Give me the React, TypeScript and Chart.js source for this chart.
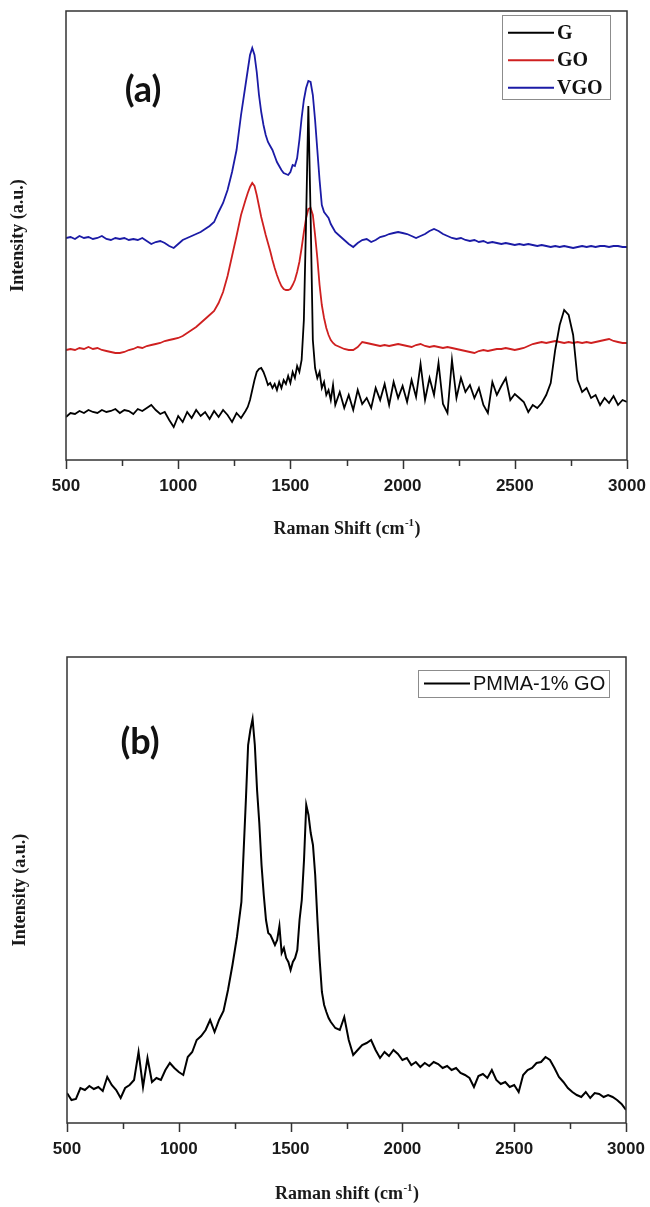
import React, { useEffect, useRef } from "react";
import { Chart, registerables } from "chart.js";

Chart.register(...registerables);

// Raman shift grid (cm-1)
const ramanShift = [
  500, 520, 540, 560, 580, 600, 620, 640, 660, 680, 700, 720, 740, 760, 780, 800, 820, 840, 860, 880, 900, 920, 940, 960, 980, 1000, 1020, 1040, 1060, 1080, 1100, 1120, 1140, 1160, 1180, 1200, 1220, 1240, 1260, 1280, 1300,
  1310, 1320, 1330, 1340, 1350, 1360, 1370, 1380, 1390, 1400, 1410, 1420, 1430, 1440, 1450, 1460, 1470, 1480, 1490, 1500, 1510, 1520, 1530, 1540, 1550, 1560, 1570, 1580, 1590, 1600, 1610, 1620, 1630, 1640, 1650, 1660, 1670, 1680, 1690, 1700,
  1720, 1740, 1760, 1780, 1800, 1820, 1840, 1860, 1880, 1900, 1920, 1940, 1960, 1980, 2000, 2020, 2040, 2060, 2080, 2100, 2120, 2140, 2160, 2180, 2200, 2220, 2240, 2260, 2280, 2300, 2320, 2340, 2360, 2380, 2400, 2420, 2440, 2460, 2480, 2500, 2520, 2540, 2560, 2580, 2600, 2620, 2640, 2660, 2680, 2700, 2720, 2740, 2760, 2780, 2800, 2820, 2840, 2860, 2880, 2900, 2920, 2940, 2960, 2980, 3000,
];

// Panel (a) intensities (a.u., offset traces)
const gIntensity = [
  43, 47, 46, 49, 47, 50, 48, 47, 50, 48, 49, 51, 47, 50, 49, 46, 51, 49, 52, 55, 50, 46, 48, 40, 33, 44, 38, 48, 42, 50, 44, 48, 41, 49, 43, 50, 45, 38, 47, 42, 49,
  53, 60, 70, 80, 88, 91, 92, 88, 82, 75, 77, 72, 76, 70, 78, 72, 80, 76, 84, 77, 88, 82, 94, 88, 100, 140, 240, 354, 245, 120, 92, 82, 88, 72, 78, 65, 70, 60, 75, 55,
  68, 52, 65, 50, 70, 56, 62, 52, 72, 60, 76, 55, 78, 62, 74, 58, 80, 63, 96, 60, 82, 65, 97, 56, 47, 100, 62, 82, 68, 75, 62, 72, 55, 47, 78, 65, 74, 82, 60, 66, 62, 58, 48, 55, 52, 57, 65, 77, 110, 135, 150, 145, 125, 80, 68, 72, 62, 65, 55, 62, 57, 64, 55, 60, 58,
];
const goIntensity = [
  110, 111, 110, 112, 111, 113, 111, 112, 110, 109, 108, 107, 107, 108, 110, 111, 113, 112, 114, 115, 116, 117, 119, 120, 121, 122, 124, 127, 130, 133, 137, 141, 145, 149, 157, 168, 184, 204, 224, 245, 260,
  267, 273, 277, 274, 265, 254, 243, 234, 225, 217, 209, 200, 192, 185, 179, 174, 171, 170, 170, 171, 175, 180, 188, 198, 212, 228, 242, 251, 252, 245, 225, 202, 175, 155, 142, 132, 125, 120, 117, 115,
  113, 111, 110, 110, 113, 118, 117, 116, 115, 114, 115, 114, 115, 116, 115, 114, 113, 115, 116, 114, 113, 114, 113, 112, 113, 112, 111, 110, 109, 108, 107, 109, 110, 109, 110, 111, 111, 112, 111, 110, 111, 112, 114, 116, 117, 118, 117, 118, 119, 118, 117, 118, 117, 118, 117, 118, 117, 118, 119, 120, 121, 119, 118, 117, 117,
];
const vgoIntensity = [
  222, 223, 221, 224, 222, 223, 221, 222, 224, 221, 220, 222, 221, 222, 220, 221, 220, 222, 219, 216, 218, 219, 217, 214, 212, 216, 220, 222, 224, 226, 228, 231, 234, 238, 248, 257, 270, 288, 310, 345, 375,
  390, 405, 412, 405, 388, 365, 348, 335, 325, 318, 314, 310, 304, 298, 294, 290, 287, 286, 285, 288, 295, 294, 302, 320, 342, 360, 372, 379, 378, 365, 340, 310, 280, 255, 248, 245, 242, 236, 232, 228,
  224, 220, 216, 213, 217, 220, 221, 218, 220, 223, 224, 226, 227, 228, 227, 226, 224, 222, 224, 226, 229, 231, 229, 226, 224, 222, 221, 222, 220, 219, 220, 218, 219, 217, 218, 217, 216, 217, 216, 215, 216, 215, 216, 215, 214, 215, 214, 213, 214, 213, 214, 213, 212, 213, 214, 213, 214, 213, 214, 214, 213, 214, 214, 213, 213,
];

// Panel (b) intensities
const pmmaIntensity = [
  30, 23, 24, 35, 33, 37, 34, 36, 32, 46, 38, 33, 25, 35, 38, 43, 71, 36, 65, 41, 45, 43, 53, 60, 55, 51, 48, 66, 71, 83, 87, 93, 103, 91, 103, 112, 133, 158, 186, 221, 323,
  378, 393, 404, 378, 333, 300, 258, 228, 203, 190, 188, 183, 178, 183, 197, 170, 175, 165, 161, 153, 161, 165, 173, 203, 223, 263, 318, 308, 290, 278, 248, 203, 163, 131, 118, 111, 105, 101, 98, 95,
  93, 106, 83, 68, 73, 78, 80, 83, 73, 65, 71, 67, 73, 69, 63, 65, 58, 61, 56, 60, 57, 61, 59, 55, 57, 53, 55, 50, 48, 45, 36, 47, 49, 45, 53, 43, 39, 41, 36, 38, 31, 48, 53, 55, 60, 61, 66, 63, 55, 46, 41, 35, 31, 28, 26, 31, 25, 30, 29, 26, 28, 26, 23, 19, 13,
];

const majorTicks = [500, 1000, 1500, 2000, 2500, 3000];
const minorTicks = [750, 1250, 1750, 2250, 2750];

const seriesA = [
  { label: "G", data: gIntensity, color: "#000000", width: 1.8 },
  { label: "GO", data: goIntensity, color: "#cf2020", width: 1.8 },
  { label: "VGO", data: vgoIntensity, color: "#1b1ba6", width: 1.8 },
];
const seriesB = [{ label: "PMMA-1% GO", data: pmmaIntensity, color: "#000000", width: 2 }];

type Decor = {
  panel: string;
  panelX: number;
  panelY: number;
  xTitle: string;
  xTitleOffset: number;
  yTitleX: number;
  legend: { x: number; y: number; w: number; h: number; rowH: number; font: string; lineLen: number; pad: number };
};

function makeDecor(d: Decor) {
  return {
    id: "decor",
    afterDraw(chart: any) {
      const ctx = chart.ctx as CanvasRenderingContext2D;
      const { left, right, top, bottom } = chart.chartArea;
      const xs = chart.scales.x;
      ctx.save();
      // frame
      ctx.strokeStyle = "#333333";
      ctx.lineWidth = 1.5;
      ctx.strokeRect(left, top, right - left, bottom - top);
      // ticks
      ctx.beginPath();
      majorTicks.forEach((v) => {
        const x = Math.round(xs.getPixelForValue(v)) + 0.5;
        ctx.moveTo(x, bottom);
        ctx.lineTo(x, bottom + 9);
      });
      minorTicks.forEach((v) => {
        const x = Math.round(xs.getPixelForValue(v)) + 0.5;
        ctx.moveTo(x, bottom);
        ctx.lineTo(x, bottom + 6);
      });
      ctx.stroke();
      // x title with superscript
      const mainFont = "bold 18px 'Liberation Serif'";
      const supFont = "bold 11px 'Liberation Serif'";
      const pre = d.xTitle + " (cm";
      const sup = "-1";
      const post = ")";
      ctx.fillStyle = "#1a1a1a";
      ctx.textBaseline = "alphabetic";
      ctx.textAlign = "left";
      ctx.font = mainFont;
      const w1 = ctx.measureText(pre).width;
      const w3 = ctx.measureText(post).width;
      ctx.font = supFont;
      const w2 = ctx.measureText(sup).width;
      const cx = (left + right) / 2;
      const x0 = cx - (w1 + w2 + w3) / 2;
      const by = bottom + d.xTitleOffset + 6;
      ctx.font = mainFont;
      ctx.fillText(pre, x0, by);
      ctx.font = supFont;
      ctx.fillText(sup, x0 + w1 + 0.5, by - 8);
      ctx.font = mainFont;
      ctx.fillText(post, x0 + w1 + w2 + 1, by);
      // y title
      ctx.save();
      ctx.translate(d.yTitleX, (top + bottom) / 2);
      ctx.rotate(-Math.PI / 2);
      ctx.textAlign = "center";
      ctx.textBaseline = "middle";
      ctx.font = mainFont;
      ctx.fillText("Intensity (a.u.)", 0, 0);
      ctx.restore();
      // panel label
      ctx.font = "bold 36px Lato";
      ctx.textAlign = "center";
      ctx.textBaseline = "middle";
      ctx.fillStyle = "#111111";
      ctx.fillText(d.panel, d.panelX, d.panelY);
      // legend
      const L = d.legend;
      ctx.fillStyle = "#ffffff";
      ctx.fillRect(L.x, L.y, L.w, L.h);
      ctx.strokeStyle = "#8c8c8c";
      ctx.lineWidth = 1;
      ctx.strokeRect(L.x + 0.5, L.y + 0.5, L.w, L.h);
      chart.data.datasets.forEach((ds: any, i: number) => {
        const y = L.y + L.pad + L.rowH * i + L.rowH / 2;
        ctx.strokeStyle = ds.borderColor;
        ctx.lineWidth = 2;
        ctx.beginPath();
        ctx.moveTo(L.x + 6, y);
        ctx.lineTo(L.x + 6 + L.lineLen, y);
        ctx.stroke();
        ctx.fillStyle = "#111111";
        ctx.font = L.font;
        ctx.textAlign = "left";
        ctx.textBaseline = "middle";
        ctx.fillText(ds.label, L.x + 6 + L.lineLen + 3, y + 1);
      });
      ctx.restore();
    },
  };
}

function makeConfig(
  series: { label: string; data: number[]; color: string; width: number }[],
  yMax: number,
  padding: any,
  yAxisWidth: number,
  xAxisHeight: number,
  decor: Decor
): any {
  return {
    type: "line",
    data: {
      datasets: series.map((s) => ({
        label: s.label,
        data: ramanShift.map((x, i) => ({ x, y: s.data[i] })),
        borderColor: s.color,
        backgroundColor: s.color,
        borderWidth: s.width,
        pointRadius: 0,
        tension: 0,
        fill: false,
      })),
    },
    options: {
      animation: false,
      responsive: false,
      maintainAspectRatio: false,
      layout: { padding },
      plugins: { legend: { display: false }, tooltip: { enabled: false } },
      scales: {
        x: {
          type: "linear",
          min: 500,
          max: 3000,
          afterFit: (s: any) => {
            s.height = xAxisHeight;
            s.paddingLeft = 0;
            s.paddingRight = 0;
          },
          grid: { display: false, drawTicks: false },
          border: { display: false },
          ticks: {
            stepSize: 500,
            padding: 16,
            maxRotation: 0,
            autoSkip: false,
            color: "#1a1a1a",
            font: { family: "'Liberation Sans'", size: 17, weight: "bold" },
            callback: (v: any) => String(v),
          },
        },
        y: {
          type: "linear",
          min: 0,
          max: yMax,
          afterFit: (s: any) => {
            s.width = yAxisWidth;
            s.paddingTop = 0;
            s.paddingBottom = 0;
          },
          grid: { display: false, drawTicks: false },
          border: { display: false },
          ticks: { display: false },
        },
      },
    },
    plugins: [makeDecor(decor)],
  };
}

function ChartCanvas({ config, width, height, top }: { config: any; width: number; height: number; top: number }) {
  const ref = useRef<HTMLCanvasElement | null>(null);
  useEffect(() => {
    if (!ref.current) return;
    const chart = new Chart(ref.current, config);
    return () => chart.destroy();
  }, []);
  return (
    <canvas
      ref={ref}
      width={width}
      height={height}
      style={{ position: "absolute", left: 0, top, width, height, display: "block" }}
    />
  );
}

export default function App() {
  const configA = makeConfig(seriesA, 449, { top: 11, right: 23, left: 0, bottom: 0 }, 66, 140, {
    panel: "(a)",
    panelX: 143,
    panelY: 90,
    xTitle: "Raman Shift",
    xTitleOffset: 68,
    yTitleX: 18,
    legend: { x: 502, y: 15, w: 108, h: 84, rowH: 27.5, font: "bold 20px 'Liberation Serif'", lineLen: 46, pad: 4 },
  });
  const configB = makeConfig(seriesB, 466, { top: 57, right: 24, left: 0, bottom: 0 }, 67, 84, {
    panel: "(b)",
    panelX: 140,
    panelY: 142,
    xTitle: "Raman shift",
    xTitleOffset: 70,
    yTitleX: 20,
    legend: { x: 418, y: 70, w: 191, h: 27, rowH: 27, font: "20px 'Liberation Sans'", lineLen: 46, pad: 0 },
  });
  return (
    <div style={{ position: "absolute", left: 0, top: 0, width: 650, height: 1207, background: "#ffffff" }}>
      <ChartCanvas config={configA} width={650} height={600} top={0} />
      <ChartCanvas config={configB} width={650} height={607} top={600} />
    </div>
  );
}
